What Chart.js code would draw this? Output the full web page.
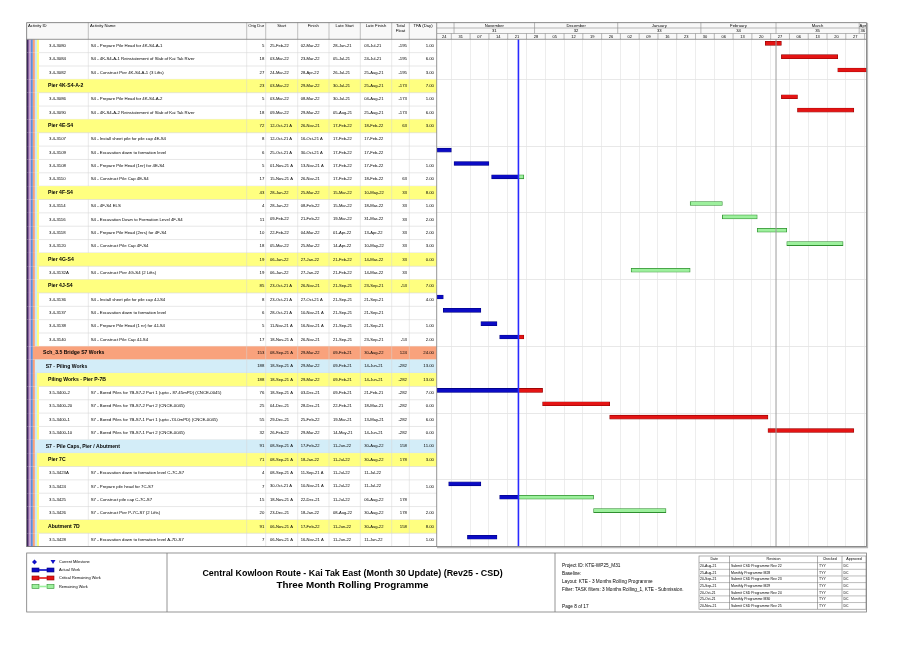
<!DOCTYPE html>
<html>
<head>
<meta charset="utf-8">
<script src="https://cdn.jsdelivr.net/npm/chart.js@4.4.1/dist/chart.umd.min.js"></script>
<style>
html, body { margin: 0; padding: 0; background: #fff; }
canvas { display: block; }
</style>
</head>
<body>
<canvas id="gantt" width="919" height="650"></canvas>
<script>
// activity table (one entry per row, top to bottom)
var activityIds = ['3.4-3080', '3.4-3084', '3.4-3082', 'Pier 4K-S4-A-2', '3.4-3086', '3.4-3090', 'Pier 4E-S4',
    '3.4-3107', '3.4-3109', '3.4-3108', '3.4-3110', 'Pier 4F-S4', '3.4-3114', '3.4-3116', '3.4-3118', '3.4-3120',
    'Pier 4G-S4', '3.4-3132A', 'Pier 4J-S4', '3.4-3136', '3.4-3137', '3.4-3138', '3.4-3140', 'Sch_3.5 Bridge S7 Works',
    'S7 - Piling Works', 'Piling Works - Pier P-7B', '3.5-3400-2', '3.5-3400-20', '3.5-3400-1', '3.5-3400-10',
    'S7 - Pile Caps, Pier / Abutment', 'Pier 7C', '3.5-3423A', '3.5-3424', '3.5-3425', '3.5-3426', 'Abutment 7D', '3.5-3428'];
var activityNames = ['S4 - Prepare Pile Head for 4K-S4-A-1', 'S4 - 4K-S4-A-1 Reinstatement of Slab of Kai Tak River',
    'S4 - Construct Pier 4K-S4-A-1 (3 Lifts)', '', 'S4 - Prepare Pile Head for 4K-S4-A-2',
    'S4 - 4K-S4-A-2 Reinstatement of Slab of Kai Tak River', '', 'S4 - Install sheet pile for pile cap 4E-S4',
    'S4 - Excavation down to formation level', 'S4 - Prepare Pile Head (1nr) for 4E-S4', 'S4 - Construct Pile Cap 4E-S4', '',
    'S4 - 4F-S4 ELS', 'S4 - Excavation Down to Formation Level 4F-S4', 'S4 - Prepare Pile Head (2nrs) for 4F-S4',
    'S4 - Construct Pile Cap 4F-S4', '', 'S4 - Construct Pier 4G-S4 (2 Lifts)', '', 'S4 - Install sheet pile for pile cap 4J-S4',
    'S4 - Excavation down to formation level', 'S4 - Prepare Pile Head (1 nr) for 4J-S4', 'S4 - Construct Pile Cap 4J-S4',
    '', '', '', 'S7 - Bored Piles for 7B-S7-2 Part 1 (upto - 87.45mPD) (CNCE-0045)', 'S7 - Bored Piles for 7B-S7-2 Part 2 (CNCE-0045)',
    'S7 - Bored Piles for 7B-S7-1 Part 1 (upto -74.0mPD) (CNCE-0045)', 'S7 - Bored Piles for 7B-S7-1 Part 2 (CNCE-0045)',
    '', '', 'S7 - Excavation down to formation level C-7C-S7', 'S7 - Prepare pile head for 7C-S7',
    'S7 - Construct pile cap C-7C-S7', 'S7 - Construct Pier P-7C-S7 (2 Lifts)', '', 'S7 - Excavation down to formation level A-7D-S7'];
// 0 = activity, 4/5/6 = WBS summary level
var rowLevels = [0, 0, 0, 6, 0, 0, 6, 0, 0, 0, 0, 6, 0, 0, 0, 0, 6, 0, 6, 0, 0, 0, 0, 4, 5, 6, 0, 0, 0, 0, 5, 6, 0, 0, 0, 0, 6, 0];
var origDur = [5, 18, 27, 23, 5, 18, 72, 8, 6, 5, 17, 43, 4, 11, 10, 18, 19, 19, 85, 8, 6, 5, 17, 153, 188, 188, 76, 25, 55, 32, 91, 71, 4, 7, 15, 20, 91, 7];
var startDates = ['25-Feb-22', '03-Mar-22', '24-Mar-22', '03-Mar-22', '03-Mar-22', '09-Mar-22', '12-Oct-21 A', '12-Oct-21 A',
    '25-Oct-21 A', '01-Nov-21 A', '15-Nov-21 A', '28-Jan-22', '28-Jan-22', '09-Feb-22', '22-Feb-22', '05-Mar-22', '06-Jan-22',
    '06-Jan-22', '23-Oct-21 A', '23-Oct-21 A', '28-Oct-21 A', '11-Nov-21 A', '18-Nov-21 A', '08-Sep-21 A', '18-Sep-21 A',
    '18-Sep-21 A', '18-Sep-21 A', '04-Dec-21', '29-Dec-21', '26-Feb-22', '08-Sep-21 A', '08-Sep-21 A', '08-Sep-21 A',
    '30-Oct-21 A', '18-Nov-21 A', '23-Dec-21', '06-Nov-21 A', '06-Nov-21 A'];
var finishDates = ['02-Mar-22', '23-Mar-22', '28-Apr-22', '29-Mar-22', '08-Mar-22', '29-Mar-22', '26-Nov-21', '16-Oct-21 A',
    '30-Oct-21 A', '13-Nov-21 A', '26-Nov-21', '25-Mar-22', '08-Feb-22', '21-Feb-22', '04-Mar-22', '25-Mar-22', '27-Jan-22',
    '27-Jan-22', '26-Nov-21', '27-Oct-21 A', '10-Nov-21 A', '16-Nov-21 A', '26-Nov-21', '29-Mar-22', '29-Mar-22', '29-Mar-22',
    '03-Dec-21', '28-Dec-21', '25-Feb-22', '29-Mar-22', '17-Feb-22', '18-Jan-22', '11-Sep-21 A', '10-Nov-21 A', '22-Dec-21',
    '18-Jan-22', '17-Feb-22', '16-Nov-21 A'];
var lateStarts = ['28-Jun-21', '05-Jul-21', '26-Jul-21', '30-Jul-21', '30-Jul-21', '05-Aug-21', '17-Feb-22', '17-Feb-22',
    '17-Feb-22', '17-Feb-22', '17-Feb-22', '15-Mar-22', '15-Mar-22', '19-Mar-22', '01-Apr-22', '14-Apr-22', '21-Feb-22',
    '21-Feb-22', '21-Sep-21', '21-Sep-21', '21-Sep-21', '21-Sep-21', '21-Sep-21', '09-Feb-21', '09-Feb-21', '09-Feb-21',
    '09-Feb-21', '22-Feb-21', '19-Mar-21', '14-May-21', '11-Jun-22', '11-Jul-22', '11-Jul-22', '11-Jul-22', '11-Jul-22',
    '08-Aug-22', '11-Jun-22', '11-Jun-22'];
var lateFinishes = ['03-Jul-21', '24-Jul-21', '25-Aug-21', '25-Aug-21', '04-Aug-21', '25-Aug-21', '18-Feb-22', '17-Feb-22',
    '17-Feb-22', '17-Feb-22', '18-Feb-22', '10-May-22', '18-Mar-22', '31-Mar-22', '13-Apr-22', '10-May-22', '14-Mar-22',
    '14-Mar-22', '23-Sep-21', '21-Sep-21', '21-Sep-21', '21-Sep-21', '23-Sep-21', '30-Aug-22', '14-Jun-21', '14-Jun-21',
    '21-Feb-21', '18-Mar-21', '13-May-21', '14-Jun-21', '30-Aug-22', '30-Aug-22', '11-Jul-22', '11-Jul-22', '06-Aug-22',
    '30-Aug-22', '30-Aug-22', '11-Jun-22'];
var totalFloat = [-195, -195, -195, -173, -173, -173, 63, null, null, null, 63, 33, 33, 33, 33, 33, 33, 33, -53, null, null,
    null, -53, 124, -282, -282, -282, -282, -282, -282, 158, 178, null, null, 178, 178, 158, null];
var tfaDays = ['1.00', '6.00', '3.00', '7.00', '1.00', '6.00', '3.00', '', '', '1.00', '2.00', '8.00', '1.00', '2.00', '2.00',
    '3.00', '0.00', '', '7.00', '4.00', '', '1.00', '2.00', '24.00', '13.00', '13.00', '7.00', '0.00', '6.00', '0.00', '11.00',
    '3.00', '', '1.00', '', '2.00', '8.00', '1.00'];

var dataDate = '25-Nov-21';
var markerDate = '01-Mar-22';

// timescale
var monthNames = ['November', 'December', 'January', 'February', 'March', 'Apr'];
var monthStarts = ['01-Nov-21', '01-Dec-21', '01-Jan-22', '01-Feb-22', '01-Mar-22', '01-Apr-22'];
var periodLabels = ['31', '32', '33', '34', '35', '36'];
var firstWeek = '24-Oct-21';
var weekLabels = ['24', '31', '07', '14', '21', '28', '05', '12', '19', '26', '02', '09', '16', '23', '30', '06', '13', '20',
    '27', '06', '13', '20', '27', ''];

// title block
var legendLabels = ['Current Milestone', 'Actual Work', 'Critical Remaining Work', 'Remaining Work'];
var titleLines = ['Central Kowloon Route - Kai Tak East (Month 30 Update) (Rev25 - CSD)', 'Three Month Rolling Programme'];
var projectLines = ['Project ID: KTE-WP25_M31', 'Baseline:', 'Layout: KTE - 3 Months Rolling Programme',
    'Filter: TASK filters: 3 Months Rolling_1, KTE - Submission.'];
var pageLabel = 'Page 8 of 17';
var revHeaders = ['Date', 'Revision', 'Checked', 'Approved'];
var revDates = ['20-Aug-21', '25-Aug-21', '20-Sep-21', '25-Sep-21', '20-Oct-21', '25-Oct-21', '20-Nov-21'];
var revTexts = ['Submit CSD Programme Rev 22', 'Monthly Programme M28', 'Submit CSD Programme Rev 23', 'Monthly Programme M29',
    'Submit CSD Programme Rev 24', 'Monthly Programme M30', 'Submit CSD Programme Rev 25'];
var revChecked = ['TYY', 'TYY', 'TYY', 'TYY', 'TYY', 'TYY', 'TYY'];
var revApproved = ['DC', 'DC', 'DC', 'DC', 'DC', 'DC', 'DC'];

var MONTHS = ['Jan', 'Feb', 'Mar', 'Apr', 'May', 'Jun', 'Jul', 'Aug', 'Sep', 'Oct', 'Nov', 'Dec'];
function dayNum(s) {
    var p = s.replace(' A', '').split('-');
    return Date.UTC(2000 + parseInt(p[2], 10), MONTHS.indexOf(p[1]), parseInt(p[0], 10)) / 86400000;
}
function isActual(s) { return / A$/.test(s); }

// build bars from start / finish / data date
var dd = dayNum(dataDate);
var actualBars = [], criticalBars = [], remainingBars = [];
var barDrop = 0.3; // bars sit in the upper part of a row
for (var i = 0; i < activityIds.length; i++) {
    if (rowLevels[i] !== 0) continue;
    var s = dayNum(startDates[i]), f = dayNum(finishDates[i]) + 1;
    var target = totalFloat[i] !== null && totalFloat[i] < 0 ? criticalBars : remainingBars;
    if (isActual(startDates[i])) {
        actualBars.push({ x: [s, isActual(finishDates[i]) ? f : dd], y: i + barDrop });
        if (!isActual(finishDates[i])) target.push({ x: [dd, f], y: i + barDrop });
    } else {
        target.push({ x: [s, f], y: i + barDrop });
    }
}

var weekTicks = [];
for (var k = 1; k < weekLabels.length; k++) weekTicks.push(dayNum(firstWeek) + 7 * k);
var X_MIN = dayNum(firstWeek) + 1.65;
var X_MAX = dayNum('03-Apr-22') + 0.72;

// table geometry
var FONT = '"Liberation Sans", Arial, sans-serif';
var colEdges = [26.7, 88.3, 246.7, 265.7, 297.7, 329, 360.3, 391.7, 409.3, 436.7];
var stripeColors = ['#3b1e5e', '#c89ad2', '#5b8ed8', '#f9a07a', '#c9e8f5', '#ffff80'];
var levelFill = { 4: '#f9a27c', 5: '#d3edf8', 6: '#ffff80' };
var levelText = { 4: 43, 5: 45.7, 6: 48 };

function txt(ctx, str, x, y, size, align, bold, color) {
    ctx.font = (bold ? 'bold ' : '') + size + 'px ' + FONT;
    ctx.textAlign = align || 'left';
    ctx.textBaseline = 'middle';
    ctx.fillStyle = color || '#000';
    ctx.fillText(str, x, y);
}
function fitTxt(ctx, str, cx, y, width) {
    ctx.font = 'bold 10px ' + FONT;
    var size = 10 * width / ctx.measureText(str).width;
    txt(ctx, str, cx, y, size, 'center', true);
}
function hline(ctx, x1, x2, y, color, w) {
    ctx.strokeStyle = color; ctx.lineWidth = w || 0.6;
    ctx.beginPath(); ctx.moveTo(x1, y); ctx.lineTo(x2, y); ctx.stroke();
}
function vline(ctx, x, y1, y2, color, w) {
    ctx.strokeStyle = color; ctx.lineWidth = w || 0.6;
    ctx.beginPath(); ctx.moveTo(x, y1); ctx.lineTo(x, y2); ctx.stroke();
}

var sheetPlugin = {
    id: 'p6sheet',
    beforeDraw: function (chart) {
        var ctx = chart.ctx, xs = chart.scales.x, ys = chart.scales.y, area = chart.chartArea;
        ctx.save();
        ctx.fillStyle = '#fff';
        ctx.fillRect(0, 0, chart.width, chart.height);

        // table rows
        for (var i = 0; i < activityIds.length; i++) {
            var top = ys.getPixelForValue(i), bot = ys.getPixelForValue(i + 1), mid = (top + bot) / 2 - 0.2;
            var lvl = rowLevels[i];
            var nStripes = lvl === 0 ? stripeColors.length : lvl - 1;
            for (var k = 0; k < nStripes; k++) {
                ctx.fillStyle = stripeColors[k];
                ctx.fillRect(26.7 + k * 2.05, top, 2.05, bot - top);
            }
            var fillX = 26.7 + nStripes * 2.05;
            if (lvl !== 0) {
                ctx.fillStyle = levelFill[lvl];
                ctx.fillRect(fillX, top, 436.7 - fillX, bot - top);
            }
            hline(ctx, fillX, 436.7, bot, '#d6d6d6', 0.6);
            for (var c = (lvl === 0 ? 1 : 2); c < colEdges.length - 1; c++) {
                vline(ctx, colEdges[c], top, bot, '#d4d4d4', 0.5);
            }
            if (lvl === 0) {
                txt(ctx, activityIds[i], 49, mid, 4.3);
                txt(ctx, activityNames[i], 90.7, mid, 4.3);
            } else {
                txt(ctx, activityIds[i], levelText[lvl], mid, 5.1, 'left', true);
            }
            txt(ctx, String(origDur[i]), 264.3, mid, 4.3, 'right');
            txt(ctx, startDates[i], 270, mid, 4.1);
            txt(ctx, finishDates[i], 300.7, mid, 4.1);
            txt(ctx, lateStarts[i], 333, mid, 4.1);
            txt(ctx, lateFinishes[i], 364.3, mid, 4.1);
            if (totalFloat[i] !== null) txt(ctx, String(totalFloat[i]), 407, mid, 4.3, 'right');
            txt(ctx, tfaDays[i], 434, mid, 4.3, 'right');
        }

        // table header
        var hTop = 22.7, hBot = area.top;
        ctx.fillStyle = '#f8f8f8';
        ctx.fillRect(26.7, hTop, 410, hBot - hTop);
        for (var c2 = 1; c2 < colEdges.length - 1; c2++) vline(ctx, colEdges[c2], hTop, hBot, '#9a9a9a', 0.6);
        txt(ctx, 'Activity ID', 28, 25.6, 4.2);
        txt(ctx, 'Activity Name', 90, 25.6, 4.2);
        txt(ctx, 'Orig Dur', 256.2, 25.6, 4.2, 'center');
        txt(ctx, 'Start', 281.7, 25.6, 4.2, 'center');
        txt(ctx, 'Finish', 313.3, 25.6, 4.2, 'center');
        txt(ctx, 'Late Start', 344.7, 25.6, 4.2, 'center');
        txt(ctx, 'Late Finish', 376, 25.6, 4.2, 'center');
        txt(ctx, 'Total', 400.5, 25.6, 4.2, 'center');
        txt(ctx, 'Float', 400.5, 31, 4.2, 'center');
        txt(ctx, 'TFA (Day)', 423, 25.6, 4.2, 'center');

        // timescale header
        var r1 = 28, r2 = 33.5;
        ctx.fillStyle = '#f8f8f8';
        ctx.fillRect(area.left, hTop, area.right - area.left, hBot - hTop);
        hline(ctx, area.left, area.right, r1, '#8a8a8a', 0.6);
        hline(ctx, area.left, area.right, r2, '#8a8a8a', 0.6);
        for (var m = 0; m < monthStarts.length; m++) {
            var mx = xs.getPixelForValue(dayNum(monthStarts[m]));
            var nx = m + 1 < monthStarts.length ? xs.getPixelForValue(dayNum(monthStarts[m + 1])) : area.right;
            nx = Math.min(nx, area.right);
            vline(ctx, mx, hTop, r2, '#8a8a8a', 0.6);
            txt(ctx, monthNames[m], (mx + nx) / 2, 25.4, 4.2, 'center');
            txt(ctx, periodLabels[m], (mx + nx) / 2, 30.8, 4.2, 'center');
        }
        for (var w = 0; w < weekLabels.length; w++) {
            var ws = dayNum(firstWeek) + 7 * w;
            var wx1 = Math.max(xs.getPixelForValue(ws), area.left);
            var wx2 = Math.min(xs.getPixelForValue(ws + 7), area.right);
            if (wx2 <= wx1) continue;
            if (w > 0) vline(ctx, wx1, r2, hBot, '#8a8a8a', 0.6);
            txt(ctx, weekLabels[w], (wx1 + wx2) / 2, 36.4, 4, 'center');
        }
        ctx.restore();
    },
    afterDatasetsDraw: function (chart) {
        var ctx = chart.ctx, xs = chart.scales.x, area = chart.chartArea;
        ctx.save();
        vline(ctx, xs.getPixelForValue(dayNum(markerDate)), area.top, area.bottom, '#9c9c9c', 1);
        vline(ctx, xs.getPixelForValue(dd), area.top, area.bottom, '#2a2aff', 1.6);
        ctx.restore();
    },
    afterDraw: function (chart) {
        var ctx = chart.ctx, area = chart.chartArea;
        ctx.save();
        // frames
        ctx.strokeStyle = '#6e6e6e'; ctx.lineWidth = 0.8;
        ctx.strokeRect(26.7, 22.7, area.right - 26.7, area.bottom - 22.7);
        vline(ctx, 436.7, 22.7, area.bottom, '#7a7a7a', 0.8);
        hline(ctx, 26.7, area.right, area.top, '#7a7a7a', 0.8);
        hline(ctx, area.left, area.right + 1.5, area.bottom + 1, '#b8b8b8', 1.2);
        vline(ctx, area.right + 1, 22.7, area.bottom + 1.5, '#b8b8b8', 1.2);

        // title block
        var fTop = 553, fBot = 612;
        ctx.strokeStyle = '#7a7a7a'; ctx.lineWidth = 0.8;
        ctx.strokeRect(26.7, fTop, area.right - 26.7, fBot - fTop);
        vline(ctx, 167, fTop, fBot, '#7a7a7a', 0.8);
        vline(ctx, 555, fTop, fBot, '#7a7a7a', 0.8);

        // legend
        var ly = [562, 570, 578, 586.5];
        ctx.fillStyle = '#1010c8';
        ctx.beginPath();
        ctx.moveTo(34.5, ly[0] - 2.5); ctx.lineTo(37, ly[0]); ctx.lineTo(34.5, ly[0] + 2.5); ctx.lineTo(32, ly[0]); ctx.closePath();
        ctx.fill();
        ctx.beginPath();
        ctx.moveTo(50.5, ly[0] - 2); ctx.lineTo(55.5, ly[0] - 2); ctx.lineTo(53, ly[0] + 2); ctx.closePath();
        ctx.fill();
        var legFill = ['#0b0bc4', '#e41414', '#9df09d'];
        var legEdge = ['#00007a', '#8a0000', '#2f8f2f'];
        for (var g = 0; g < 3; g++) {
            var y0 = ly[g + 1];
            ctx.fillStyle = legFill[g]; ctx.strokeStyle = legEdge[g]; ctx.lineWidth = 0.6;
            ctx.fillRect(32, y0 - 2, 7, 4); ctx.strokeRect(32, y0 - 2, 7, 4);
            ctx.fillRect(47, y0 - 2, 7, 4); ctx.strokeRect(47, y0 - 2, 7, 4);
            ctx.fillRect(39, y0 - 0.8, 8, 1.6);
        }
        for (var lg = 0; lg < legendLabels.length; lg++) txt(ctx, legendLabels[lg], 59, ly[lg], 3.9);

        // title
        fitTxt(ctx, titleLines[0], 352.5, 573.5, 301);
        fitTxt(ctx, titleLines[1], 352.5, 585.5, 152);

        // project info
        var py = [565.5, 573.5, 581.5, 589.5];
        for (var p = 0; p < projectLines.length; p++) txt(ctx, projectLines[p], 562, py[p], 4.7);
        txt(ctx, pageLabel, 562, 606.5, 4.7);

        // revision table
        var rx = [699, 729.5, 817.5, 842, 866];
        var rTop = 556, rH = 6.65;
        ctx.strokeStyle = '#7a7a7a'; ctx.lineWidth = 0.6;
        ctx.strokeRect(rx[0], rTop, rx[4] - rx[0], rH * 8);
        for (var rc = 1; rc < 4; rc++) vline(ctx, rx[rc], rTop, rTop + rH * 8, '#7a7a7a', 0.6);
        for (var rr = 1; rr < 8; rr++) hline(ctx, rx[0], rx[4], rTop + rH * rr, '#7a7a7a', 0.5);
        for (var h = 0; h < revHeaders.length; h++) txt(ctx, revHeaders[h], (rx[h] + rx[h + 1]) / 2, rTop + rH / 2, 3.6, 'center');
        for (var q = 0; q < revDates.length; q++) {
            var yy = rTop + rH * (q + 1.5);
            txt(ctx, revDates[q], rx[0] + 1, yy, 3.5);
            txt(ctx, revTexts[q], rx[1] + 1.5, yy, 3.5);
            txt(ctx, revChecked[q], rx[2] + 1.5, yy, 3.5);
            txt(ctx, revApproved[q], rx[3] + 1.5, yy, 3.5);
        }
        ctx.restore();
    }
};

var ctx = document.getElementById('gantt').getContext('2d');
var ganttChart = new Chart(ctx, {
    type: 'bar',
    data: {
        datasets: [
            { label: 'Actual Work', data: actualBars, backgroundColor: '#0b0bc4', borderColor: '#00007a', borderWidth: 0.6 },
            { label: 'Critical Remaining Work', data: criticalBars, backgroundColor: '#e41414', borderColor: '#8a0000', borderWidth: 0.6 },
            { label: 'Remaining Work', data: remainingBars, backgroundColor: '#9df09d', borderColor: '#2f8f2f', borderWidth: 0.8 }
        ]
    },
    options: {
        indexAxis: 'y',
        responsive: false,
        animation: false,
        layout: { padding: { left: 437, right: 52.5, top: 39.3, bottom: 103.4 } },
        datasets: { bar: { barThickness: 4, grouped: false, borderSkipped: false } },
        plugins: { legend: { display: false }, tooltip: { enabled: false } },
        scales: {
            x: {
                type: 'linear', min: X_MIN, max: X_MAX, beginAtZero: false,
                ticks: { display: false },
                grid: { color: '#e8e8e8', lineWidth: 0.8, drawTicks: false },
                border: { display: false },
                afterBuildTicks: function (scale) {
                    scale.ticks = weekTicks.map(function (v) { return { value: v }; });
                }
            },
            y: {
                type: 'linear', min: 0, max: activityIds.length, reverse: true, offset: false, beginAtZero: false,
                ticks: { display: false },
                grid: { color: '#e2e2e2', lineWidth: 0.8, drawTicks: false, offset: false },
                border: { display: false },
                afterBuildTicks: function (scale) {
                    var t = [];
                    for (var v = 3; v < activityIds.length; v += 5) t.push({ value: v });
                    scale.ticks = t;
                }
            }
        }
    },
    plugins: [sheetPlugin]
});
</script>
</body>
</html>
